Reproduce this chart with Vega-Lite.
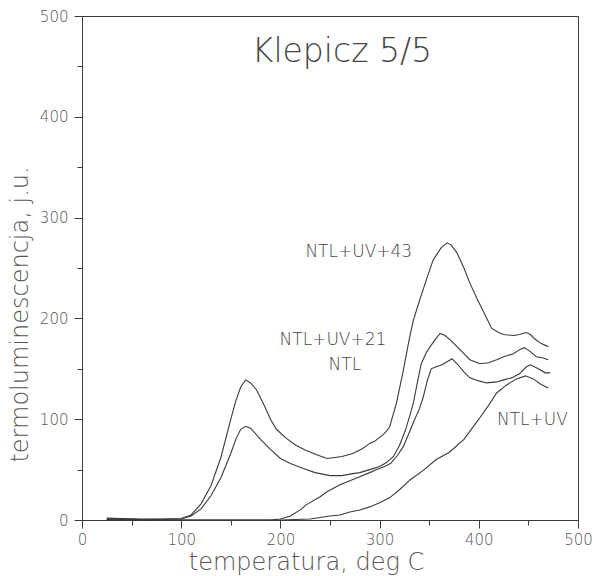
{
  "$schema": "https://vega.github.io/schema/vega-lite/v6.json",
  "width": 496,
  "height": 504,
  "autosize": {"type": "none"},
  "padding": {"left": 82, "top": 16, "right": 17, "bottom": 56},
  "background": "white",
  "config": {
    "view": {"stroke": "#3a3a3a", "strokeWidth": 1},
    "font": "DejaVu Sans",
    "axis": {
      "grid": false,
      "domainColor": "#3a3a3a",
      "tickColor": "#3a3a3a",
      "labelColor": "#555555",
      "titleColor": "#555555",
      "labelFont": "DejaVu Sans",
      "titleFont": "DejaVu Sans",
      "labelFontSize": 15,
      "titleFontSize": 21,
      "titleFontWeight": 200,
      "labelFontWeight": 200
    }
  },
  "datasets": {
    "curves": [
      {"series": "NTL+UV+43", "temp": 25, "tl": 2},
      {"series": "NTL+UV+43", "temp": 40, "tl": 1.5},
      {"series": "NTL+UV+43", "temp": 60, "tl": 1},
      {"series": "NTL+UV+43", "temp": 80, "tl": 1},
      {"series": "NTL+UV+43", "temp": 100, "tl": 1.5},
      {"series": "NTL+UV+43", "temp": 110, "tl": 5},
      {"series": "NTL+UV+43", "temp": 120, "tl": 16},
      {"series": "NTL+UV+43", "temp": 130, "tl": 34},
      {"series": "NTL+UV+43", "temp": 140, "tl": 62},
      {"series": "NTL+UV+43", "temp": 150, "tl": 100},
      {"series": "NTL+UV+43", "temp": 155, "tl": 118},
      {"series": "NTL+UV+43", "temp": 160, "tl": 132},
      {"series": "NTL+UV+43", "temp": 165, "tl": 139},
      {"series": "NTL+UV+43", "temp": 170, "tl": 136},
      {"series": "NTL+UV+43", "temp": 176, "tl": 129},
      {"series": "NTL+UV+43", "temp": 183, "tl": 115},
      {"series": "NTL+UV+43", "temp": 190, "tl": 100},
      {"series": "NTL+UV+43", "temp": 196, "tl": 90},
      {"series": "NTL+UV+43", "temp": 206, "tl": 81},
      {"series": "NTL+UV+43", "temp": 216, "tl": 74},
      {"series": "NTL+UV+43", "temp": 226, "tl": 69},
      {"series": "NTL+UV+43", "temp": 236, "tl": 65},
      {"series": "NTL+UV+43", "temp": 247, "tl": 61},
      {"series": "NTL+UV+43", "temp": 255, "tl": 62},
      {"series": "NTL+UV+43", "temp": 262, "tl": 63},
      {"series": "NTL+UV+43", "temp": 273, "tl": 66},
      {"series": "NTL+UV+43", "temp": 283, "tl": 71},
      {"series": "NTL+UV+43", "temp": 290, "tl": 76},
      {"series": "NTL+UV+43", "temp": 295, "tl": 78},
      {"series": "NTL+UV+43", "temp": 300, "tl": 82},
      {"series": "NTL+UV+43", "temp": 305, "tl": 86},
      {"series": "NTL+UV+43", "temp": 310, "tl": 92},
      {"series": "NTL+UV+43", "temp": 317, "tl": 116},
      {"series": "NTL+UV+43", "temp": 324, "tl": 149},
      {"series": "NTL+UV+43", "temp": 330, "tl": 180},
      {"series": "NTL+UV+43", "temp": 334, "tl": 198},
      {"series": "NTL+UV+43", "temp": 340, "tl": 217},
      {"series": "NTL+UV+43", "temp": 348, "tl": 241},
      {"series": "NTL+UV+43", "temp": 354, "tl": 258},
      {"series": "NTL+UV+43", "temp": 362, "tl": 270},
      {"series": "NTL+UV+43", "temp": 368, "tl": 275},
      {"series": "NTL+UV+43", "temp": 372, "tl": 273},
      {"series": "NTL+UV+43", "temp": 378, "tl": 265},
      {"series": "NTL+UV+43", "temp": 385, "tl": 250},
      {"series": "NTL+UV+43", "temp": 391, "tl": 235},
      {"series": "NTL+UV+43", "temp": 398, "tl": 220},
      {"series": "NTL+UV+43", "temp": 405, "tl": 206},
      {"series": "NTL+UV+43", "temp": 413, "tl": 190},
      {"series": "NTL+UV+43", "temp": 420, "tl": 186},
      {"series": "NTL+UV+43", "temp": 425, "tl": 184},
      {"series": "NTL+UV+43", "temp": 435, "tl": 183},
      {"series": "NTL+UV+43", "temp": 441, "tl": 184},
      {"series": "NTL+UV+43", "temp": 448, "tl": 186},
      {"series": "NTL+UV+43", "temp": 452, "tl": 184},
      {"series": "NTL+UV+43", "temp": 457, "tl": 179},
      {"series": "NTL+UV+43", "temp": 463, "tl": 175},
      {"series": "NTL+UV+43", "temp": 470, "tl": 172},

      {"series": "NTL+UV+21", "temp": 25, "tl": 1.5},
      {"series": "NTL+UV+21", "temp": 60, "tl": 0.5},
      {"series": "NTL+UV+21", "temp": 100, "tl": 1},
      {"series": "NTL+UV+21", "temp": 110, "tl": 4},
      {"series": "NTL+UV+21", "temp": 120, "tl": 11},
      {"series": "NTL+UV+21", "temp": 130, "tl": 24},
      {"series": "NTL+UV+21", "temp": 140, "tl": 42},
      {"series": "NTL+UV+21", "temp": 150, "tl": 66},
      {"series": "NTL+UV+21", "temp": 155, "tl": 80},
      {"series": "NTL+UV+21", "temp": 160, "tl": 90},
      {"series": "NTL+UV+21", "temp": 165, "tl": 93},
      {"series": "NTL+UV+21", "temp": 170, "tl": 91},
      {"series": "NTL+UV+21", "temp": 180, "tl": 80},
      {"series": "NTL+UV+21", "temp": 190, "tl": 70},
      {"series": "NTL+UV+21", "temp": 200, "tl": 61},
      {"series": "NTL+UV+21", "temp": 210, "tl": 56},
      {"series": "NTL+UV+21", "temp": 223, "tl": 51},
      {"series": "NTL+UV+21", "temp": 235, "tl": 47},
      {"series": "NTL+UV+21", "temp": 250, "tl": 44},
      {"series": "NTL+UV+21", "temp": 262, "tl": 44},
      {"series": "NTL+UV+21", "temp": 273, "tl": 46},
      {"series": "NTL+UV+21", "temp": 280, "tl": 47},
      {"series": "NTL+UV+21", "temp": 290, "tl": 50},
      {"series": "NTL+UV+21", "temp": 300, "tl": 53},
      {"series": "NTL+UV+21", "temp": 307, "tl": 57},
      {"series": "NTL+UV+21", "temp": 314, "tl": 63},
      {"series": "NTL+UV+21", "temp": 320, "tl": 74},
      {"series": "NTL+UV+21", "temp": 326, "tl": 89},
      {"series": "NTL+UV+21", "temp": 330, "tl": 102},
      {"series": "NTL+UV+21", "temp": 334, "tl": 116},
      {"series": "NTL+UV+21", "temp": 338, "tl": 136},
      {"series": "NTL+UV+21", "temp": 342, "tl": 155},
      {"series": "NTL+UV+21", "temp": 347, "tl": 166},
      {"series": "NTL+UV+21", "temp": 351, "tl": 172},
      {"series": "NTL+UV+21", "temp": 356, "tl": 179},
      {"series": "NTL+UV+21", "temp": 361, "tl": 185},
      {"series": "NTL+UV+21", "temp": 366, "tl": 183},
      {"series": "NTL+UV+21", "temp": 372, "tl": 178},
      {"series": "NTL+UV+21", "temp": 378, "tl": 172},
      {"series": "NTL+UV+21", "temp": 385, "tl": 165},
      {"series": "NTL+UV+21", "temp": 391, "tl": 159},
      {"series": "NTL+UV+21", "temp": 401, "tl": 155},
      {"series": "NTL+UV+21", "temp": 410, "tl": 156},
      {"series": "NTL+UV+21", "temp": 418, "tl": 159},
      {"series": "NTL+UV+21", "temp": 425, "tl": 162},
      {"series": "NTL+UV+21", "temp": 435, "tl": 165},
      {"series": "NTL+UV+21", "temp": 441, "tl": 169},
      {"series": "NTL+UV+21", "temp": 446, "tl": 171},
      {"series": "NTL+UV+21", "temp": 452, "tl": 167},
      {"series": "NTL+UV+21", "temp": 458, "tl": 162},
      {"series": "NTL+UV+21", "temp": 464, "tl": 161},
      {"series": "NTL+UV+21", "temp": 470, "tl": 159},

      {"series": "NTL", "temp": 25, "tl": 0.5},
      {"series": "NTL", "temp": 100, "tl": 0},
      {"series": "NTL", "temp": 190, "tl": 0},
      {"series": "NTL", "temp": 200, "tl": 1},
      {"series": "NTL", "temp": 210, "tl": 4},
      {"series": "NTL", "temp": 220, "tl": 10},
      {"series": "NTL", "temp": 226, "tl": 15},
      {"series": "NTL", "temp": 240, "tl": 23},
      {"series": "NTL", "temp": 247, "tl": 28},
      {"series": "NTL", "temp": 260, "tl": 35},
      {"series": "NTL", "temp": 270, "tl": 39},
      {"series": "NTL", "temp": 280, "tl": 43},
      {"series": "NTL", "temp": 290, "tl": 47},
      {"series": "NTL", "temp": 297, "tl": 50},
      {"series": "NTL", "temp": 305, "tl": 53},
      {"series": "NTL", "temp": 311, "tl": 56},
      {"series": "NTL", "temp": 318, "tl": 64},
      {"series": "NTL", "temp": 324, "tl": 73},
      {"series": "NTL", "temp": 330, "tl": 87},
      {"series": "NTL", "temp": 335, "tl": 99},
      {"series": "NTL", "temp": 340, "tl": 110},
      {"series": "NTL", "temp": 344, "tl": 122},
      {"series": "NTL", "temp": 348, "tl": 138},
      {"series": "NTL", "temp": 352, "tl": 150},
      {"series": "NTL", "temp": 357, "tl": 152},
      {"series": "NTL", "temp": 363, "tl": 154},
      {"series": "NTL", "temp": 368, "tl": 157},
      {"series": "NTL", "temp": 373, "tl": 160},
      {"series": "NTL", "temp": 378, "tl": 155},
      {"series": "NTL", "temp": 385, "tl": 147},
      {"series": "NTL", "temp": 391, "tl": 141},
      {"series": "NTL", "temp": 400, "tl": 138},
      {"series": "NTL", "temp": 408, "tl": 136},
      {"series": "NTL", "temp": 418, "tl": 137},
      {"series": "NTL", "temp": 425, "tl": 139},
      {"series": "NTL", "temp": 433, "tl": 141},
      {"series": "NTL", "temp": 441, "tl": 145},
      {"series": "NTL", "temp": 448, "tl": 152},
      {"series": "NTL", "temp": 452, "tl": 154},
      {"series": "NTL", "temp": 460, "tl": 150},
      {"series": "NTL", "temp": 467, "tl": 146},
      {"series": "NTL", "temp": 472, "tl": 146},

      {"series": "NTL+UV", "temp": 25, "tl": 0.5},
      {"series": "NTL+UV", "temp": 100, "tl": 0},
      {"series": "NTL+UV", "temp": 200, "tl": 0},
      {"series": "NTL+UV", "temp": 230, "tl": 1},
      {"series": "NTL+UV", "temp": 250, "tl": 4},
      {"series": "NTL+UV", "temp": 260, "tl": 5},
      {"series": "NTL+UV", "temp": 270, "tl": 8},
      {"series": "NTL+UV", "temp": 280, "tl": 10},
      {"series": "NTL+UV", "temp": 290, "tl": 13},
      {"series": "NTL+UV", "temp": 300, "tl": 17},
      {"series": "NTL+UV", "temp": 310, "tl": 22},
      {"series": "NTL+UV", "temp": 320, "tl": 30},
      {"series": "NTL+UV", "temp": 331, "tl": 40},
      {"series": "NTL+UV", "temp": 345, "tl": 50},
      {"series": "NTL+UV", "temp": 357, "tl": 60},
      {"series": "NTL+UV", "temp": 370, "tl": 67},
      {"series": "NTL+UV", "temp": 385, "tl": 80},
      {"series": "NTL+UV", "temp": 400, "tl": 100},
      {"series": "NTL+UV", "temp": 410, "tl": 114},
      {"series": "NTL+UV", "temp": 418, "tl": 126},
      {"series": "NTL+UV", "temp": 428, "tl": 134},
      {"series": "NTL+UV", "temp": 438, "tl": 140},
      {"series": "NTL+UV", "temp": 447, "tl": 143},
      {"series": "NTL+UV", "temp": 455, "tl": 140},
      {"series": "NTL+UV", "temp": 462, "tl": 135},
      {"series": "NTL+UV", "temp": 470, "tl": 131}
    ],
    "labels": [
      {"label": "Klepicz  5/5", "temp": 262, "tl": 464, "role": "title"},
      {"label": "NTL+UV+43", "temp": 279, "tl": 266, "role": "curve"},
      {"label": "NTL+UV+21", "temp": 253, "tl": 179, "role": "curve"},
      {"label": "NTL", "temp": 265, "tl": 154, "role": "curve"},
      {"label": "NTL+UV", "temp": 454, "tl": 99, "role": "curve"}
    ]
  },
  "layer": [
    {
      "data": {"name": "curves"},
      "mark": {"type": "line", "color": "#3a3a3a", "strokeWidth": 1.1, "interpolate": "linear"},
      "encoding": {
        "x": {
          "field": "temp",
          "type": "quantitative",
          "scale": {"domain": [0, 500], "nice": false, "zero": false},
          "axis": {
            "values": [0, 50, 100, 150, 200, 250, 300, 350, 400, 450, 500],
            "labelExpr": "datum.value % 100 === 0 ? datum.label : ''",
            "tickSize": {"condition": {"test": "datum.value % 100 === 0", "value": 8}, "value": 5},
            "labelPadding": 4,
            "labelFlush": false,
            "title": "temperatura,  deg  C",
            "titleFontSize": 24,
            "titleAnchor": null,
            "titleAlign": "center",
            "titleBaseline": "alphabetic",
            "titleX": 224,
            "titleY": 49
          }
        },
        "y": {
          "field": "tl",
          "type": "quantitative",
          "scale": {"domain": [0, 500], "nice": false, "zero": false},
          "axis": {
            "values": [0, 50, 100, 150, 200, 250, 300, 350, 400, 450, 500],
            "labelExpr": "datum.value % 100 === 0 ? datum.label : ''",
            "tickSize": {"condition": {"test": "datum.value % 100 === 0", "value": 8}, "value": 5},
            "labelPadding": 6,
            "labelFlush": false,
            "title": "termoluminescencja,  j.u.",
            "titleFontSize": 24,
            "titleAnchor": null,
            "titleAlign": "center",
            "titleBaseline": "middle",
            "titleAngle": -90,
            "titleX": -62,
            "titleY": 298
          }
        },
        "detail": {"field": "series", "type": "nominal"}
      }
    },
    {
      "data": {"name": "labels"},
      "transform": [{"filter": "datum.role === 'curve'"}],
      "mark": {"type": "text", "fontSize": 17, "fontWeight": 200, "color": "#444444", "align": "center", "baseline": "middle", "font": "DejaVu Sans"},
      "encoding": {
        "x": {"field": "temp", "type": "quantitative"},
        "y": {"field": "tl", "type": "quantitative"},
        "text": {"field": "label", "type": "nominal"}
      }
    },
    {
      "data": {"name": "labels"},
      "transform": [{"filter": "datum.role === 'title'"}],
      "mark": {"type": "text", "fontSize": 33, "fontWeight": 200, "color": "#444444", "align": "center", "baseline": "middle", "font": "DejaVu Sans"},
      "encoding": {
        "x": {"field": "temp", "type": "quantitative"},
        "y": {"field": "tl", "type": "quantitative"},
        "text": {"field": "label", "type": "nominal"}
      }
    }
  ]
}
